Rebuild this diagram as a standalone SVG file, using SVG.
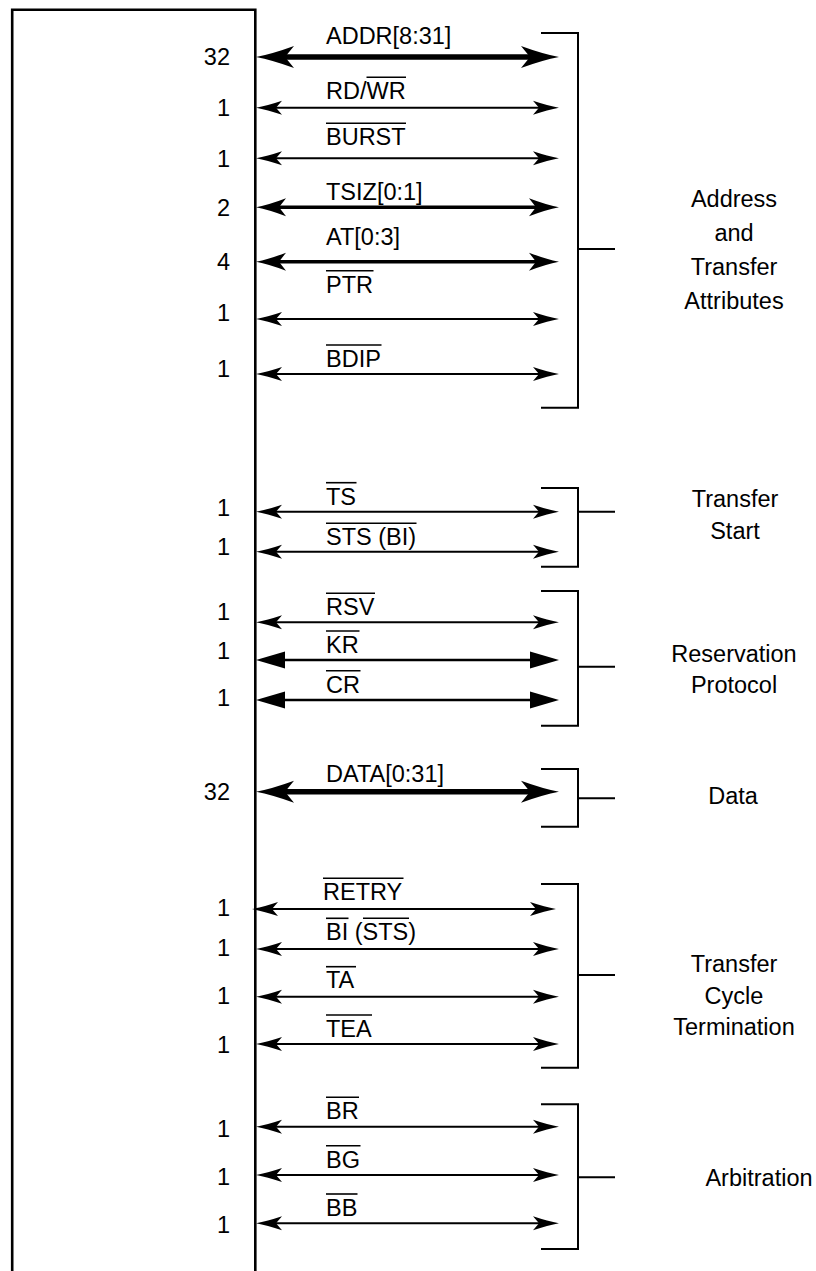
<svg xmlns="http://www.w3.org/2000/svg" width="816" height="1271" viewBox="0 0 816 1271">
<style>
.t{font-family:"Liberation Sans",Arial,Helvetica,sans-serif;font-size:23.5px;fill:#000}
.n{font-family:"Liberation Sans",Arial,Helvetica,sans-serif;font-size:23.5px;fill:#000;text-anchor:end}
.g{font-family:"Liberation Sans",Arial,Helvetica,sans-serif;font-size:23.5px;fill:#000;text-anchor:middle}
.ob{stroke:#000;stroke-width:1.6;fill:none}
.br{stroke:#000;stroke-width:2;fill:none}
.box{stroke:#000;stroke-width:2.6;fill:none}
.thick{stroke:#000;stroke-width:5.5;fill:none;marker-start:url(#mThick);marker-end:url(#mThick)}
.med{stroke:#000;stroke-width:3.4;fill:none;marker-start:url(#mMed);marker-end:url(#mMed)}
.thin{stroke:#000;stroke-width:2;fill:none;marker-start:url(#mThin);marker-end:url(#mThin)}
.tri{stroke:#000;stroke-width:2.5;fill:none;marker-start:url(#mTri);marker-end:url(#mTri)}
</style>
<defs>
<marker id="mThick" markerUnits="userSpaceOnUse" viewBox="0 -11 38 22" markerWidth="38" markerHeight="22" refX="20" refY="0" orient="auto-start-reverse" overflow="visible">
<path d="M38,0 Q22,-3 0,-11 L9,0 L0,11 Q22,3 38,0 Z" fill="#000"/>
</marker>
<marker id="mMed" markerUnits="userSpaceOnUse" viewBox="0 -9 30 18" markerWidth="30" markerHeight="18" refX="16" refY="0" orient="auto-start-reverse" overflow="visible">
<path d="M30,0 Q17,-2.5 0,-9 L7,0 L0,9 Q17,2.5 30,0 Z" fill="#000"/>
</marker>
<marker id="mThin" markerUnits="userSpaceOnUse" viewBox="0 -7 26 14" markerWidth="26" markerHeight="14" refX="15" refY="0" orient="auto-start-reverse" overflow="visible">
<path d="M26,0 Q15,-2 0,-7 L6,0 L0,7 Q15,2 26,0 Z" fill="#000"/>
</marker>
<marker id="mTri" markerUnits="userSpaceOnUse" viewBox="0 -8.5 29 17" markerWidth="29" markerHeight="17" refX="19" refY="0" orient="auto-start-reverse" overflow="visible">
<path d="M29,0 L0,-8.5 L0,8.5 Z" fill="#000"/>
</marker>
</defs>
<rect width="816" height="1271" fill="#fff"/>

<g id="chip">
<path class="box" d="M12.2,1271 V9.7 H255.3 V1271"/>
<text class="n" x="230" y="65.4">32</text>
<text class="n" x="230" y="116.4">1</text>
<text class="n" x="230" y="166.6">1</text>
<text class="n" x="230" y="216.4">2</text>
<text class="n" x="230" y="270.1">4</text>
<text class="n" x="230" y="321.4">1</text>
<text class="n" x="230" y="377.4">1</text>
<text class="n" x="230" y="516.4">1</text>
<text class="n" x="230" y="555.4">1</text>
<text class="n" x="230" y="620.4">1</text>
<text class="n" x="230" y="659.4">1</text>
<text class="n" x="230" y="706.4">1</text>
<text class="n" x="230" y="800.4">32</text>
<text class="n" x="230" y="916.4">1</text>
<text class="n" x="230" y="956.4">1</text>
<text class="n" x="230" y="1004.4">1</text>
<text class="n" x="230" y="1053.4">1</text>
<text class="n" x="230" y="1137.4">1</text>
<text class="n" x="230" y="1185.4">1</text>
<text class="n" x="230" y="1233.4">1</text>
</g>

<g id="connectors">
<line class="thick" x1="274" y1="57" x2="541" y2="57"/>
<line class="thin" x1="267" y1="107.7" x2="548" y2="107.7"/>
<line class="thin" x1="267" y1="158.3" x2="548" y2="158.3"/>
<line class="med" x1="270" y1="207.3" x2="545" y2="207.3"/>
<line class="med" x1="270" y1="261.7" x2="545" y2="261.7"/>
<line class="thin" x1="267" y1="319" x2="548" y2="319"/>
<line class="thin" x1="267" y1="374" x2="548" y2="374"/>
<line class="thin" x1="267" y1="511.7" x2="548" y2="511.7"/>
<line class="thin" x1="267" y1="551.7" x2="548" y2="551.7"/>
<line class="thin" x1="267" y1="622.3" x2="548" y2="622.3"/>
<line class="tri" x1="266" y1="660" x2="549" y2="660"/>
<line class="tri" x1="266" y1="700" x2="549" y2="700"/>
<line class="thick" x1="274" y1="791.7" x2="541" y2="791.7"/>
<line class="thin" x1="263" y1="909" x2="545" y2="909"/>
<line class="thin" x1="267" y1="949" x2="548" y2="949"/>
<line class="thin" x1="267" y1="996.7" x2="548" y2="996.7"/>
<line class="thin" x1="267" y1="1044" x2="548" y2="1044"/>
<line class="thin" x1="267" y1="1126.7" x2="548" y2="1126.7"/>
<line class="thin" x1="267" y1="1175" x2="548" y2="1175"/>
<line class="thin" x1="267" y1="1223.3" x2="548" y2="1223.3"/>
</g>

<g id="signals">
<g id="sig-addr"><text class="t" x="326" y="44">ADDR[8:31]</text></g>
<g id="sig-rdwr"><text class="t" x="326" y="98.5">RD/WR</text><line class="ob" x1="366.5" y1="77.3" x2="406" y2="77.3"/></g>
<g id="sig-burst"><text class="t" x="326" y="145">BURST</text><line class="ob" x1="326" y1="123.3" x2="406" y2="123.3"/></g>
<g id="sig-tsiz"><text class="t" x="326" y="199.5">TSIZ[0:1]</text></g>
<g id="sig-at"><text class="t" x="326" y="245">AT[0:3]</text></g>
<g id="sig-ptr"><text class="t" x="326" y="292.5">PTR</text><line class="ob" x1="326" y1="270.7" x2="373.5" y2="270.7"/></g>
<g id="sig-bdip"><text class="t" x="326" y="366.5">BDIP</text><line class="ob" x1="326" y1="345" x2="381.5" y2="345"/></g>
<g id="sig-ts"><text class="t" x="326" y="504.5">TS</text><line class="ob" x1="326" y1="482.7" x2="356.5" y2="482.7"/></g>
<g id="sig-sts"><text class="t" x="326" y="545">STS (BI)</text><line class="ob" x1="326" y1="523.3" x2="416.5" y2="523.3"/></g>
<g id="sig-rsv"><text class="t" x="326" y="615">RSV</text><line class="ob" x1="326" y1="593.3" x2="375" y2="593.3"/></g>
<g id="sig-kr"><text class="t" x="326" y="652.5">KR</text><line class="ob" x1="326" y1="631" x2="359.5" y2="631"/></g>
<g id="sig-cr"><text class="t" x="326" y="692.5">CR</text><line class="ob" x1="326" y1="670.7" x2="360.5" y2="670.7"/></g>
<g id="sig-data"><text class="t" x="326" y="781.5">DATA[0:31]</text></g>
<g id="sig-retry"><text class="t" x="323" y="900">RETRY</text><line class="ob" x1="323" y1="878.3" x2="403.5" y2="878.3"/></g>
<g id="sig-bi"><text class="t" x="326" y="940">BI (STS)</text><line class="ob" x1="326" y1="918.3" x2="348.5" y2="918.3"/><line class="ob" x1="363" y1="918.3" x2="409" y2="918.3"/></g>
<g id="sig-ta"><text class="t" x="326" y="988.3">TA</text><line class="ob" x1="326" y1="966.7" x2="356" y2="966.7"/></g>
<g id="sig-tea"><text class="t" x="326" y="1036.7">TEA</text><line class="ob" x1="326" y1="1015" x2="372" y2="1015"/></g>
<g id="sig-br"><text class="t" x="326" y="1119">BR</text><line class="ob" x1="326" y1="1097.3" x2="359" y2="1097.3"/></g>
<g id="sig-bg"><text class="t" x="326" y="1167.5">BG</text><line class="ob" x1="326" y1="1145.7" x2="360.5" y2="1145.7"/></g>
<g id="sig-bb"><text class="t" x="326" y="1215.7">BB</text><line class="ob" x1="326" y1="1194" x2="357.5" y2="1194"/></g>
</g>

<g id="grp-address">
<path class="br" d="M541,33 H578 V407.7 H541 M578,249 H615"/>
<text class="g" x="734" y="207">Address</text>
<text class="g" x="734" y="241">and</text>
<text class="g" x="734" y="275">Transfer</text>
<text class="g" x="734" y="309">Attributes</text>
</g>
<g id="grp-start">
<path class="br" d="M541,488 H578 V566.7 H541 M578,511.7 H615"/>
<text class="g" x="735" y="506.5">Transfer</text>
<text class="g" x="735" y="538.5">Start</text>
</g>
<g id="grp-reservation">
<path class="br" d="M541,591 H578 V725.7 H541 M578,666.7 H615"/>
<text class="g" x="734" y="661.5">Reservation</text>
<text class="g" x="734" y="693">Protocol</text>
</g>
<g id="grp-data">
<path class="br" d="M541,769 H578 V826.7 H541 M578,798.3 H615"/>
<text class="g" x="733" y="803.5">Data</text>
</g>
<g id="grp-termination">
<path class="br" d="M541,884 H578 V1067.7 H541 M578,975 H615"/>
<text class="g" x="734" y="972">Transfer</text>
<text class="g" x="734" y="1004">Cycle</text>
<text class="g" x="734" y="1035">Termination</text>
</g>
<g id="grp-arbitration">
<path class="br" d="M541,1104.3 H578 V1249 H541 M578,1177.3 H615"/>
<text class="g" x="759" y="1185.5">Arbitration</text>
</g>
</svg>
